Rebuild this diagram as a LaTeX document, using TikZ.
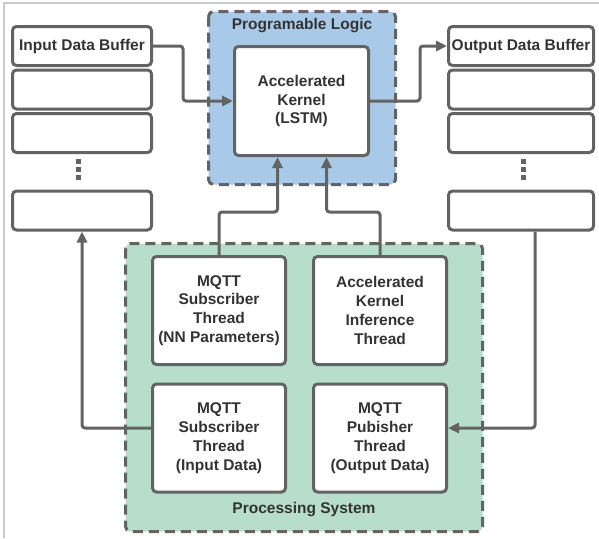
\documentclass[tikz,border=0pt]{standalone}
\usepackage{fontspec}
\setmainfont{Liberation Sans}
\usetikzlibrary{arrows.meta,calc}
\definecolor{linegray}{HTML}{636363}
\definecolor{textgray}{HTML}{333333}
\definecolor{plblue}{HTML}{A8CAE8}
\definecolor{psgreen}{HTML}{B6DECB}
\definecolor{framegray}{HTML}{CACACA}
\begin{document}
\begin{tikzpicture}[x=1pt, y=-1pt, >={Triangle[length=11pt,width=10pt]},
 line width=3pt,
 every node/.style={font=\fontsize{15.5}{18.8}\selectfont\bfseries, text=textgray},
 buf/.style ={rectangle, draw=linegray, fill=white, rounded corners=4pt, align=center, inner sep=0pt, minimum height=39pt, minimum width=139pt},
 obuf/.style ={buf, minimum width=145pt},
 thr/.style ={rectangle, draw=linegray, fill=white, rounded corners=4pt, align=center, inner sep=0pt, minimum height=108pt, minimum width=133pt},
 region/.style ={draw=linegray, dash pattern=on 10pt off 6pt, rounded corners=5pt},
 arr/.style ={draw=linegray, ->, rounded corners=3pt}]

\useasboundingbox (0,0) rectangle (599,538);
\draw[framegray, line width=2pt] (4,538) -- (4,3) -- (599,3);

% regions
\draw[region, fill=plblue] (208.5,11.5) rectangle (395.5,184.5);
\draw[region, fill=psgreen] (125.5,243.5) rectangle (482.5,531.5);
\node (PL) at (302,26) {Programable Logic};
\node (PS) at (304,510) {Processing System};

% buffers
\node[buf] (in1) at (82,46) {Input Data Buffer};
\node[buf] (in2) at (82,89.5) {};
\node[buf] (in3) at (82,133) {};
\node[buf] (in4) at (82,210.5) {};
\node[obuf] (out1) at (521,46) {Output Data Buffer};
\node[obuf] (out2) at (521,89.5) {};
\node[obuf] (out3) at (521,133) {};
\node[obuf] (out4) at (521,210.5) {};
\foreach \dx in {78,523}
  \foreach \dy in {161,169,177}
    \fill[linegray] (\dx-2.5,\dy-2.5) rectangle (\dx+2.5,\dy+2.5);

% kernel and threads
\node[thr, minimum width=134pt, minimum height=109pt] (kernel) at (301.5,101) {Accelerated\\Kernel\\(LSTM)};
\node[thr] (tl) at (219,310.5) {MQTT\\Subscriber\\Thread\\(NN Parameters)};
\node[thr] (tr) at (380,310.5) {Accelerated\\Kernel\\Inference\\Thread};
\node[thr] (bl) at (219,438) {MQTT\\Subscriber\\Thread\\(Input Data)};
\node[thr] (br) at (380,438) {MQTT\\Pubisher\\Thread\\(Output Data)};

\coordinate (kin1) at ([xshift=-24pt]kernel.south);
\coordinate (kin2) at ([xshift=25pt]kernel.south);

% connectors
\draw[arr] (in1.east) -- ++(30,0) |- (kernel.west);
\draw[arr] (kernel.east) -- ++(50,0) |- (out1.west);
\draw[arr] (tl.north) -- ++(0,-43) -| (kin1);
\draw[arr] (tr.north) -- ++(0,-43) -| (kin2);
\draw[arr] ([yshift=10pt]bl.west) -| (in4.south);
\draw[arr] ([xshift=14pt]out4.south) |- ([yshift=10pt]br.east);

\end{tikzpicture}
\end{document}
